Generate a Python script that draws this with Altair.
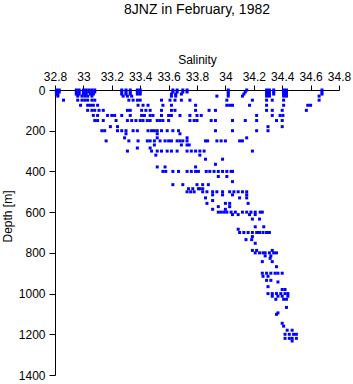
import altair as alt
import pandas as pd

depth_levels = [
    0, 10, 20, 30, 50, 75, 100, 125, 150, 180, 200, 215, 235, 250, 270, 285, 300,
    320, 340, 365, 378, 400, 425, 450, 465, 485, 500, 515, 530, 543, 557, 573,
    586, 600, 612, 634, 672, 684, 700, 720, 735, 753, 788, 800, 815, 827, 843,
    868, 900, 915, 935, 943, 966, 980, 1000, 1013, 1028, 1068, 1095, 1102, 1146,
    1160, 1180, 1200, 1220, 1233,
]

salinity_by_level = [
    [32.81, 32.83, 32.95, 32.97, 33.00, 33.02, 33.04, 33.06, 33.08, 33.27, 33.30, 33.33, 33.38, 33.40,
     33.63, 33.66, 33.70, 33.73, 34.02, 34.15, 34.29, 34.31, 34.34, 34.41, 34.43, 34.68],
    [32.81, 32.83, 32.95, 32.97, 33.00, 33.02, 33.04, 33.06, 33.08, 33.27, 33.30, 33.33, 33.38, 33.40,
     33.63, 33.66, 33.70, 33.73, 34.02, 34.14, 34.29, 34.31, 34.34, 34.41, 34.43, 34.68],
    [32.81, 32.82, 32.95, 32.97, 33.00, 33.02, 33.05, 33.07, 33.27, 33.30, 33.33, 33.38, 33.40,
     33.62, 33.65, 33.69, 34.02, 34.13, 34.29, 34.31, 34.34, 34.41, 34.43, 34.68],
    [32.82, 32.96, 32.99, 33.01, 33.03, 33.06, 33.28, 33.31, 33.34, 33.62, 33.65, 33.94,
     34.02, 34.12, 34.29, 34.31, 34.41, 34.43, 34.66],
    [32.86, 32.96, 32.99, 33.01, 33.03, 33.06, 33.08, 33.32, 33.35, 33.38, 33.40, 33.55, 33.61,
     33.645, 33.69, 33.75, 34.01, 34.19, 34.29, 34.33, 34.41, 34.66],
    [32.98, 33.03, 33.05, 33.07, 33.10, 33.385, 33.42, 33.455, 33.56, 33.62, 33.79, 34.01, 34.03,
     34.05, 34.17, 34.29, 34.41, 34.58, 34.60],
    [33.03, 33.06, 33.08, 33.11, 33.14, 33.31, 33.33, 33.41, 33.44, 33.47, 33.55, 33.62, 33.645,
     33.79, 33.885, 33.93, 34.29, 34.33, 34.40, 34.57],
    [33.07, 33.10, 33.17, 33.20, 33.22, 33.27, 33.33, 33.41, 33.43, 33.47, 33.49, 33.55, 33.60,
     33.62, 33.68, 33.75, 33.80, 33.83, 34.22, 34.33, 34.385, 34.405],
    [33.08, 33.10, 33.14, 33.23, 33.31, 33.34, 33.37, 33.40, 33.42, 33.45, 33.47, 33.52, 33.54,
     33.56, 33.60, 33.75, 33.78, 33.80, 33.90, 33.93, 34.05, 34.14, 34.22, 34.36, 34.40],
    [33.19, 33.24, 34.30, 34.40],
    [33.13, 33.15, 33.24, 33.27, 33.30, 33.35, 33.38, 33.455, 33.48, 33.50, 33.52, 33.55, 33.59,
     33.63, 33.67, 33.93, 34.05, 34.22, 34.30],
    [33.30, 33.52, 33.68],
    [33.29, 33.52, 33.73, 34.15],
    [33.16, 33.32, 33.385, 33.45, 33.47, 33.50, 33.54, 33.575, 33.60, 33.62, 33.66, 33.68, 33.70,
     33.73, 33.86, 33.875, 33.94, 33.97, 34.00, 34.10, 34.12],
    [33.50, 33.69, 33.73, 33.745],
    [33.38, 33.47],
    [33.31, 33.48, 33.52, 33.55, 33.59, 33.62, 33.66, 33.73, 33.76, 33.79, 33.82, 33.85, 34.19],
    [33.51, 33.82],
    [33.86, 33.98],
    [33.93],
    [33.52, 33.575, 33.79],
    [33.56, 33.58, 33.63, 33.67, 33.73, 33.76, 33.79, 33.81, 33.865, 33.89, 33.92, 33.95, 33.98,
     34.01, 34.04, 34.05],
    [33.95, 34.01],
    [34.05],
    [33.63, 33.70, 33.80, 33.84, 33.88],
    [33.74, 33.77, 33.81, 33.82, 33.84],
    [33.73, 33.755, 33.78, 33.84, 33.87, 33.91, 33.94, 33.98, 34.03, 34.06, 34.09, 34.12, 34.15],
    [33.91, 33.98, 34.05, 34.15],
    [33.86, 34.10, 34.15],
    [33.91],
    [33.87, 34.00, 34.03, 34.16],
    [33.95, 34.03],
    [33.91, 34.00],
    [33.95, 33.97, 33.99, 34.01, 34.04, 34.07, 34.12, 34.15, 34.18, 34.21, 34.245, 34.26],
    [34.05, 34.09, 34.17, 34.21],
    [34.19, 34.24],
    [34.21, 34.27],
    [34.09],
    [34.10, 34.13, 34.16, 34.19, 34.22, 34.24, 34.265, 34.29, 34.31],
    [34.19],
    [34.145, 34.185],
    [34.21],
    [34.19, 34.22, 34.33],
    [34.21, 34.24, 34.265, 34.28, 34.31, 34.34, 34.36],
    [34.28, 34.32],
    [34.315],
    [34.26, 34.33],
    [34.36],
    [34.26, 34.29, 34.32, 34.35, 34.37, 34.40],
    [34.265, 34.30],
    [34.29, 34.32],
    [34.37],
    [34.30],
    [34.40, 34.42],
    [34.30, 34.33, 34.36, 34.39, 34.42, 34.44],
    [34.33, 34.37, 34.40, 34.44],
    [34.355, 34.41, 34.43],
    [34.43],
    [34.37],
    [34.36],
    [34.40],
    [34.41],
    [34.435, 34.47],
    [34.42, 34.45, 34.48, 34.50],
    [34.42, 34.45, 34.47, 34.50],
    [34.47],
]

x_ticks = [32.8, 33.0, 33.2, 33.4, 33.6, 33.8, 34.0, 34.2, 34.4, 34.6, 34.8]
y_ticks = [0, 200, 400, 600, 800, 1000, 1200, 1400]

rows = []
for d, svals in zip(depth_levels, salinity_by_level):
    for s in svals:
        rows.append({"depth": d, "salinity": s})
df = pd.DataFrame(rows)

FONT = "Liberation Sans"

chart = (
    alt.Chart(df)
    .mark_square(size=9, color="#0000ff", opacity=1)
    .encode(
        x=alt.X(
            "salinity:Q",
            scale=alt.Scale(domain=[32.8, 34.8], nice=False, zero=False),
            axis=alt.Axis(
                orient="top", values=x_ticks, format="~g", title="Salinity",
                grid=False, tickSize=5, labelPadding=2, titlePadding=4,
                labelOverlap=False, labelFlush=False,
            ),
        ),
        y=alt.Y(
            "depth:Q",
            scale=alt.Scale(domain=[0, 1400], reverse=True, nice=False, zero=False),
            axis=alt.Axis(
                values=y_ticks, format="d", title="Depth [m]", grid=False, tickSize=6,
                labelPadding=4, titlePadding=4, titleY=126, labelOverlap=False,
                labelFlush=False,
            ),
        ),
    )
    .properties(
        width=284,
        height=285,
        title=alt.TitleParams(
            "8JNZ in February, 1982", fontSize=14, fontWeight="normal",
            font=FONT, color="black", offset=36,
        ),
        padding={"left": 55, "top": 90, "right": 14, "bottom": 9},
        autosize="none",
    )
    .configure_view(stroke=None)
    .configure_axis(
        labelFont=FONT, titleFont=FONT, labelFontSize=12, titleFontSize=12,
        titleFontWeight="normal", labelColor="black", titleColor="black",
        domainColor="black", tickColor="black", domainWidth=1, tickWidth=1,
    )
)

chart.save("out.html", embed_options={"renderer": "svg", "actions": False})
